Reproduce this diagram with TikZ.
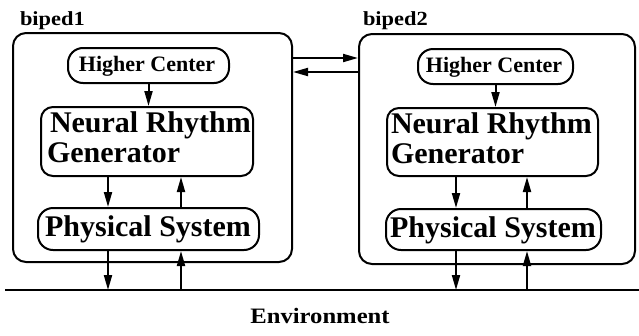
\documentclass[tikz,border=0pt]{standalone}
\usepackage{fontspec}
\setmainfont{Liberation Serif}
\newfontfamily\widefont{Liberation Serif}[FakeStretch=1.12]
\usetikzlibrary{arrows.meta}
\begin{document}
\begin{tikzpicture}[x=1pt,y=-1pt,line width=2pt,
  outerbox/.style={draw,rounded corners=13pt,anchor=north west,inner sep=0pt},
  hcbox/.style={draw,rounded corners=15pt,anchor=north west,inner sep=0pt},
  nrgbox/.style={draw,rounded corners=12pt,anchor=north west,inner sep=0pt},
  psbox/.style={draw,rounded corners=15pt,anchor=north west,inner sep=0pt},
  hctext/.style={anchor=base,inner sep=0pt,font=\fontsize{22}{24}\selectfont\bfseries},
  bigtext/.style={anchor=base west,inner sep=0pt,font=\fontsize{30}{30}\selectfont\bfseries},
  pstext/.style={anchor=base,inner sep=0pt,font=\fontsize{30}{30}\selectfont\bfseries},
  lbl/.style={anchor=base west,inner sep=0pt,font=\widefont\fontsize{20}{22}\selectfont\bfseries},
  arr/.style={-{Triangle[length=15pt,width=8pt]}}]
\useasboundingbox (0,0) rectangle (639,335);
% biped 1
\node[outerbox,minimum width=279pt,minimum height=229pt] (outer1) at (12,32) {};
\node[lbl] (lab1) at (19,25) {biped1};
\node[hcbox,minimum width=161pt,minimum height=35pt] (hc1) at (67,47) {};
\node[hctext] (hct1) at (147,71) {Higher Center};
\node[nrgbox,minimum width=212pt,minimum height=69pt] (nrg1) at (40,106) {};
\node[bigtext] (nrga1) at (49,132) {Neural Rhythm};
\node[bigtext] (nrgb1) at (46,162) {Generator};
\node[psbox,minimum width=221pt,minimum height=42pt] (ps1) at (37,207) {};
\node[pstext] (pst1) at (148,236) {Physical System};
% biped 2
\node[outerbox,minimum width=276pt,minimum height=230pt] (outer2) at (358,33) {};
\node[lbl] (lab2) at (362,25) {biped2};
\node[hcbox,minimum width=155pt,minimum height=35pt] (hc2) at (417,48) {};
\node[hctext] (hct2) at (494,72) {Higher Center};
\node[nrgbox,minimum width=211pt,minimum height=68pt] (nrg2) at (386,107) {};
\node[bigtext] (nrga2) at (390,133) {Neural Rhythm};
\node[bigtext] (nrgb2) at (390,163) {Generator};
\node[psbox,minimum width=215pt,minimum height=41pt] (ps2) at (385,208) {};
\node[pstext] (pst2) at (493,237) {Physical System};
% environment
\coordinate (envL) at (5,290);
\coordinate (envR) at (639,290);
\draw (envL) -- (envR);
\node[anchor=base,inner sep=0pt,font=\widefont\fontsize{22}{25}\selectfont\bfseries] (env) at (320,323) {Environment};
% columns
\coordinate (d1) at (108,0);
\coordinate (u1) at (181,0);
\coordinate (d2) at (456,0);
\coordinate (u2) at (527,0);
\coordinate (r1) at (0,58);
\coordinate (r2) at (0,72);
% arrows biped1
\draw[arr] (hc1.south) -- (hc1.south |- nrg1.north);
\draw[arr] (nrg1.south -| d1) -- (ps1.north -| d1);
\draw[arr] (ps1.north -| u1) -- (nrg1.south -| u1);
\draw[arr] (ps1.south -| d1) -- (envL -| d1);
\draw[arr] (envL -| u1) -- (ps1.south -| u1);
% arrows biped2
\draw[arr] (hc2.south) -- (hc2.south |- nrg2.north);
\draw[arr] (nrg2.south -| d2) -- (ps2.north -| d2);
\draw[arr] (ps2.north -| u2) -- (nrg2.south -| u2);
\draw[arr] (ps2.south -| d2) -- (envL -| d2);
\draw[arr] (envL -| u2) -- (ps2.south -| u2);
% between bipeds
\draw[arr] (outer1.east |- r1) -- (outer2.west |- r1);
\draw[arr] (outer2.west |- r2) -- (outer1.east |- r2);
\end{tikzpicture}
\end{document}
